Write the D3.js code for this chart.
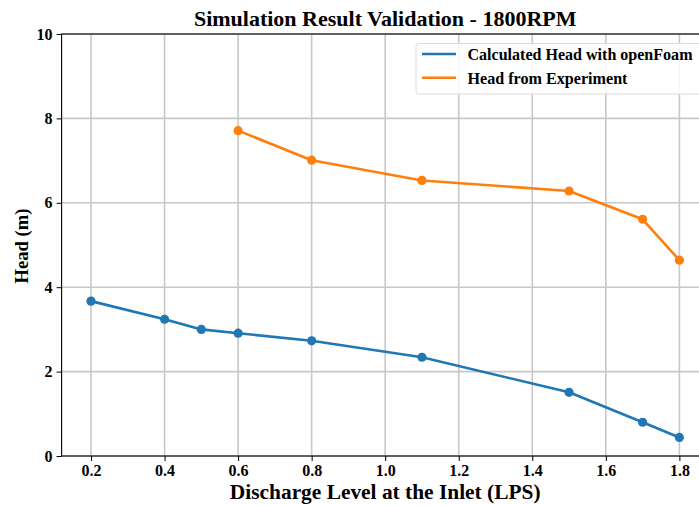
<!DOCTYPE html>
<html><head><meta charset="utf-8">
<script src="https://cdn.jsdelivr.net/npm/d3@7"></script>
<style>body{margin:0;background:#fff}svg{display:block}</style>
</head><body>
<script>
const calcX = [0.2, 0.4, 0.5, 0.6, 0.8, 1.1, 1.5, 1.7, 1.8];
const calcHead = [3.67, 3.24, 3.00, 2.91, 2.73, 2.34, 1.51, 0.80, 0.44];
const expX = [0.6, 0.8, 1.1, 1.5, 1.7, 1.8];
const expHead = [7.71, 7.01, 6.53, 6.28, 5.61, 4.64];
const xTicks = [0.2, 0.4, 0.6, 0.8, 1.0, 1.2, 1.4, 1.6, 1.8];
const yTicks = [0, 2, 4, 6, 8, 10];
const seriesNames = ["Calculated Head with openFoam", "Head from Experiment"];
const colors = ["#1f77b4", "#ff7f0e"];

const W = 699, H = 505;
const font = "'Liberation Serif', 'Times New Roman', serif";
const svg = d3.select("body").append("svg").attr("width", W).attr("height", H)
  .style("font-family", font);

const mLeft = 61.6, mRight = 708.8, mTop = 34, mBottom = 456;
const x = d3.scaleLinear().domain([0.12, 1.88]).range([mLeft, mRight]);
const y = d3.scaleLinear().domain([0, 10]).range([mBottom, mTop]);

// grid
const g = svg.append("g");
g.selectAll(".vg").data(xTicks).join("line")
  .attr("x1", d => x(d)).attr("x2", d => x(d)).attr("y1", mTop).attr("y2", mBottom)
  .attr("stroke", "#c8c8c8").attr("stroke-width", 1.6);
g.selectAll(".hg").data(yTicks).join("line")
  .attr("y1", d => y(d)).attr("y2", d => y(d)).attr("x1", mLeft).attr("x2", mRight)
  .attr("stroke", "#c8c8c8").attr("stroke-width", 1.6);

// axes
const xAxis = svg.append("g").attr("transform", `translate(0,${mBottom})`)
  .call(d3.axisBottom(x).tickValues(xTicks).tickFormat(d3.format(".1f")).tickSize(5).tickPadding(4));
const yAxis = svg.append("g").attr("transform", `translate(${mLeft},0)`)
  .call(d3.axisLeft(y).tickValues(yTicks).tickFormat(d3.format("d")).tickSize(5).tickPadding(4));
[xAxis, yAxis].forEach(a => {
  a.select(".domain").remove();
  a.selectAll("text").style("font-family", font).style("font-size", "16px")
    .style("font-weight", "bold").attr("fill", "#000");
  a.selectAll("line").attr("stroke", "#000").attr("stroke-width", 1);
});
// spines
svg.append("rect").attr("x", mLeft).attr("y", mTop).attr("width", mRight - mLeft).attr("height", mBottom - mTop)
  .attr("fill", "none").attr("stroke", "#000").attr("stroke-width", 1.1);

// series
const line = d3.line().x(d => x(d[0])).y(d => y(d[1]));
const series = [
  calcX.map((v, i) => [v, calcHead[i]]),
  expX.map((v, i) => [v, expHead[i]])
];
series.forEach((s, i) => {
  svg.append("path").datum(s).attr("d", line).attr("fill", "none")
    .attr("stroke", colors[i]).attr("stroke-width", 2.6).attr("stroke-linejoin", "round");
  svg.selectAll(null).data(s).join("circle")
    .attr("cx", d => x(d[0])).attr("cy", d => y(d[1])).attr("r", 4.6).attr("fill", colors[i]);
});

// legend
const legendWidths = [225, 160];
const lg = svg.append("g");
lg.append("rect").attr("x", 416).attr("y", 43.5).attr("width", 286).attr("height", 50.5).attr("rx", 3)
  .attr("fill", "#fff").attr("fill-opacity", 0.85).attr("stroke", "#dcdcdc").attr("stroke-width", 1);
seriesNames.forEach((n, i) => {
  const yy = 54 + i * 23.7;
  lg.append("line").attr("x1", 422).attr("x2", 456).attr("y1", yy).attr("y2", yy)
    .attr("stroke", colors[i]).attr("stroke-width", 2.6);
  lg.append("text").attr("x", 467.5).attr("y", yy + 5.8).text(n)
    .attr("textLength", legendWidths[i]).attr("lengthAdjust", "spacingAndGlyphs")
    .style("font-size", "16.5px").style("font-weight", "bold").attr("fill", "#000");
});

// titles
svg.append("text").attr("x", (mLeft + mRight) / 2).attr("y", 26).attr("text-anchor", "middle")
  .style("font-size", "22px").style("font-weight", "bold").text("Simulation Result Validation - 1800RPM");
svg.append("text").attr("x", (mLeft + mRight) / 2).attr("y", 499).attr("text-anchor", "middle")
  .style("font-size", "21.4px").style("font-weight", "bold").text("Discharge Level at the Inlet (LPS)");
svg.append("text").attr("transform", `translate(28,${(mTop + mBottom) / 2 + 1}) rotate(-90)`).attr("text-anchor", "middle")
  .style("font-size", "18.6px").style("font-weight", "bold").text("Head (m)");
</script>
</body></html>
